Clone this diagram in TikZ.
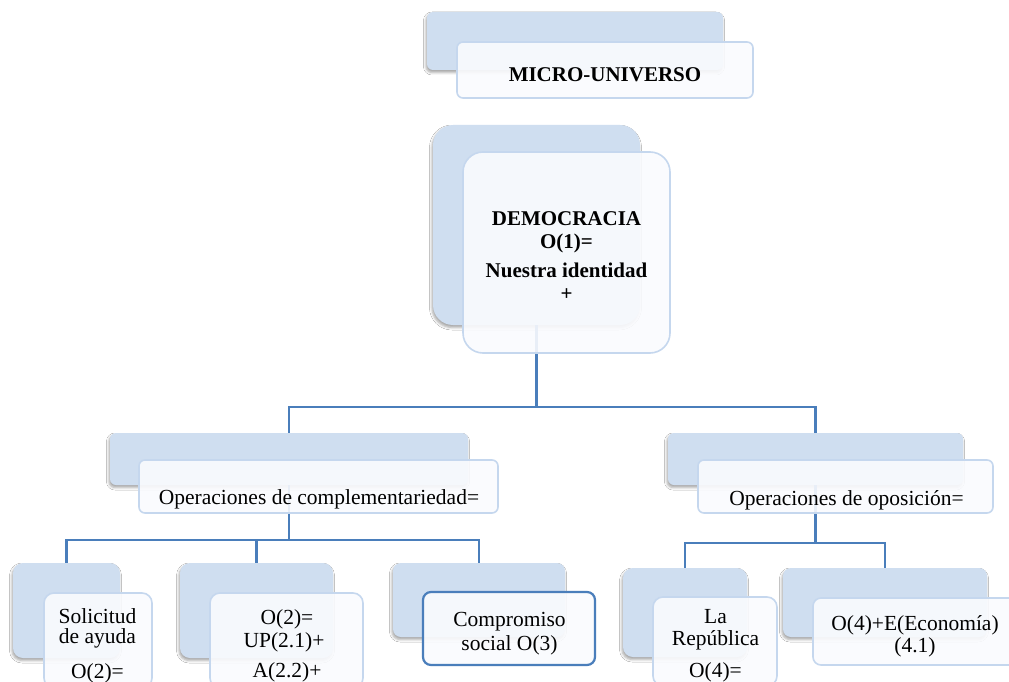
\documentclass[tikz,border=0pt]{standalone}
\usepackage{fontspec}
\setmainfont{Liberation Serif}
\usetikzlibrary{shadows.blur}
\definecolor{backblue}{RGB}{207,222,240}
\definecolor{frontfill}{RGB}{250,251,254}
\definecolor{frontline}{RGB}{197,215,238}
\definecolor{connblue}{RGB}{74,126,187}
\begin{document}
\begin{tikzpicture}[x=1pt,y=-1pt,
  backbox/.style={rectangle, fill=backblue, rounded corners=#1, inner sep=0pt,
    blur shadow={shadow xshift=-1pt, shadow yshift=-2.5pt, shadow blur radius=2.5pt, shadow opacity=35}},
  backbox/.default=7pt,
  frontbox/.style={rectangle, fill=frontfill, fill opacity=0.9, draw=frontline,
    line width=1.6pt, rounded corners=#1, inner sep=0pt},
  frontbox/.default=7pt,
  selbox/.style={frontbox=#1, draw=connblue, line width=2.2pt},
  selbox/.default=7pt,
  conn/.style={draw=connblue, line width=2.4pt},
  lbl/.style={anchor=base, inner sep=0pt, font=\fontsize{21.5}{24}\selectfont},
  ttl/.style={anchor=base, inner sep=0pt, font=\fontsize{21}{24}\selectfont\bfseries}
]
\clip (0,0) rectangle (1009,682);
\fill[white] (0,0) rectangle (1009,682);

% ---- back boxes ----
\node[backbox=6pt, minimum width=296pt, minimum height=58pt] (topb) at (575,41) {};
\node[backbox=20pt, minimum width=207pt, minimum height=200pt] (demb) at (536.5,225) {};
\node[backbox=6pt, minimum width=358pt, minimum height=52pt] (compb) at (289,459) {};
\node[backbox=6pt, minimum width=295pt, minimum height=52pt] (oppb) at (815.5,459) {};
\node[backbox=10pt, minimum width=107pt, minimum height=95pt] (solb) at (66.5,610.5) {};
\node[backbox=10pt, minimum width=153pt, minimum height=95pt] (upb) at (256.5,610.5) {};
\node[backbox=8pt, minimum width=172pt, minimum height=74pt] (socb) at (479,600) {};
\node[backbox=10pt, minimum width=124pt, minimum height=89pt] (repb) at (685,612.5) {};
\node[backbox=8pt, minimum width=204pt, minimum height=69pt] (ecob) at (885,602.5) {};

% ---- connectors ----
\coordinate (busA) at (536.5,407);
\coordinate (busB) at (289,540);
\coordinate (busC) at (815.5,543);
\draw[conn] (demb.south) -- (busA);
\draw[conn] (busA) -| (compb.north);
\draw[conn] (busA) -| (oppb.north);
\draw[conn] (compb.south) -- (busB);
\draw[conn] (busB) -| (solb.north);
\draw[conn] (busB) -| (upb.north);
\draw[conn] (busB) -| (socb.north);
\draw[conn] (oppb.south) -- (busC);
\draw[conn] (busC) -| (repb.north);
\draw[conn] (busC) -| (ecob.north);

% ---- front boxes ----
\node[frontbox=6pt, minimum width=296pt, minimum height=56pt] (topf) at (605,70) {};
\node[frontbox=20pt, minimum width=207pt, minimum height=201pt] (demf) at (566.5,252.5) {};
\node[frontbox=6pt, minimum width=359pt, minimum height=53pt] (compf) at (318.5,486.5) {};
\node[frontbox=6pt, minimum width=295pt, minimum height=53pt] (oppf) at (845.5,486.5) {};
\node[frontbox=10pt, minimum width=108pt, minimum height=95pt] (solf) at (98,640.5) {};
\node[frontbox=10pt, minimum width=153pt, minimum height=95pt] (upf) at (286.5,640.5) {};
\node[selbox=8pt, minimum width=172pt, minimum height=73pt] (socf) at (509,628.5) {};
\node[frontbox=10pt, minimum width=124pt, minimum height=89pt] (repf) at (715,641.5) {};
\node[frontbox=8pt, minimum width=204pt, minimum height=67pt] (ecof) at (915,631.5) {};

% ---- texts ----
\node[ttl] (t-micro) at (605,81.5) {MICRO-UNIVERSO};
\node[ttl] (t-dem1) at (566.5,225) {DEMOCRACIA};
\node[ttl] (t-dem2) at (566.5,248) {O(1)=};
\node[ttl] (t-dem3) at (566.5,277) {Nuestra identidad};
\node[ttl] (t-dem4) at (566.5,300) {+};
\node[lbl] (t-comp) at (319,504) {Operaciones de complementariedad=};
\node[lbl] (t-opp) at (846.5,505) {Operaciones de oposición=};
\node[lbl] (t-sol1) at (97.5,623.5) {Solicitud};
\node[lbl] (t-sol2) at (97.5,643.5) {de ayuda};
\node[lbl] (t-sol3) at (97.5,678) {O(2)=};
\node[lbl] (t-up1) at (287,624) {O(2)=};
\node[lbl] (t-up2) at (284,647) {UP(2.1)+};
\node[lbl] (t-up3) at (287,677.5) {A(2.2)+};
\node[lbl] (t-soc1) at (509.5,626.5) {Compromiso};
\node[lbl] (t-soc2) at (509.5,650.5) {social O(3)};
\node[lbl] (t-rep1) at (715.5,623) {La};
\node[lbl] (t-rep2) at (715.5,645.5) {República};
\node[lbl] (t-rep3) at (715.5,677) {O(4)=};
\node[lbl] (t-eco1) at (915,630) {O(4)+E(Economía)};
\node[lbl] (t-eco2) at (915,652) {(4.1)};
\end{tikzpicture}
\end{document}
